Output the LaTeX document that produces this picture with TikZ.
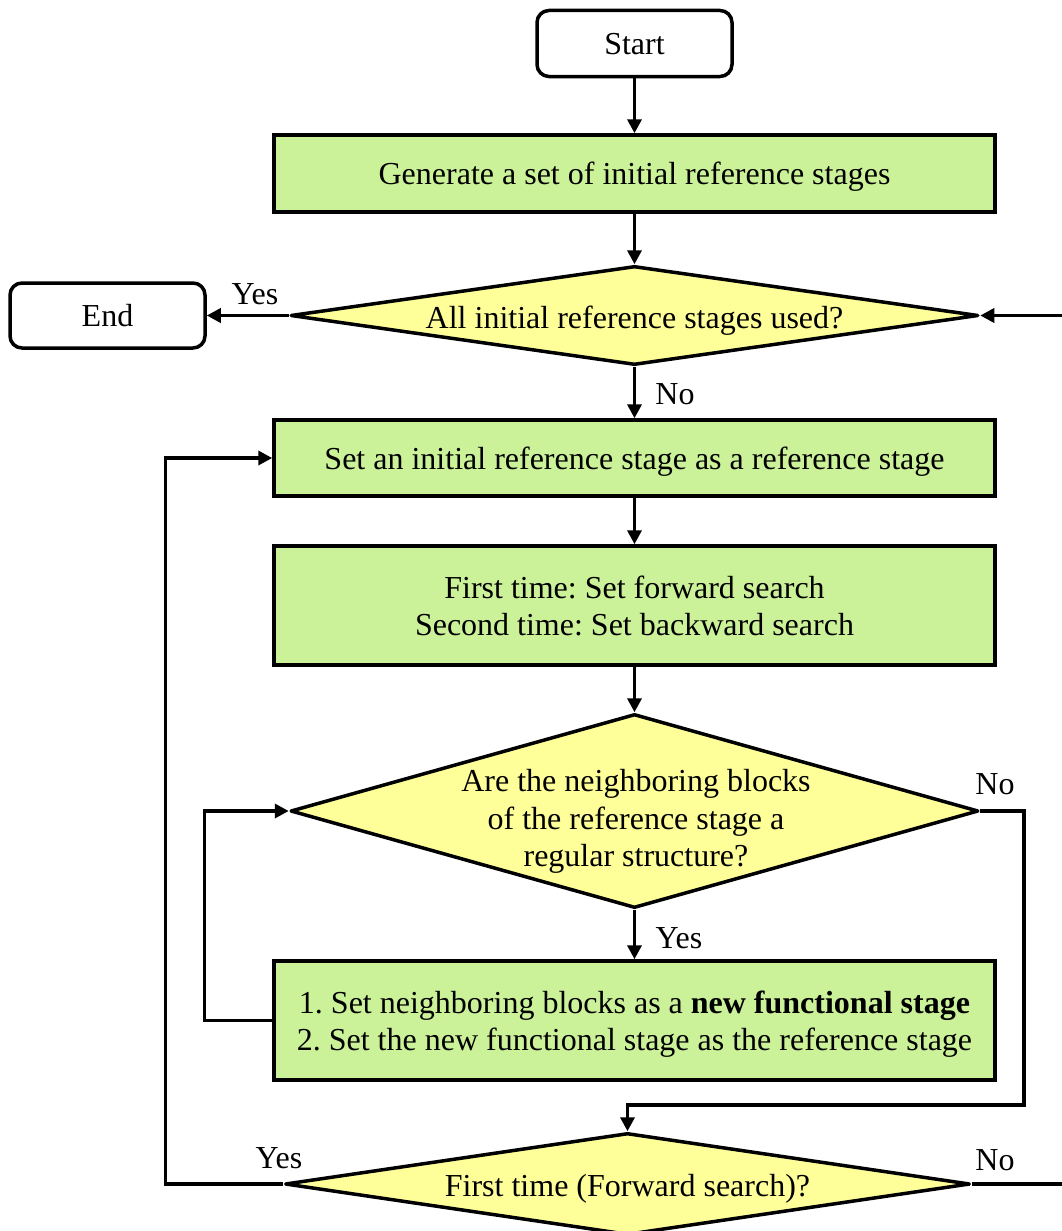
\documentclass[tikz,border=0pt]{standalone}
\usepackage{fontspec}
\setmainfont{Liberation Serif}
\usetikzlibrary{arrows.meta,shapes.geometric}
\definecolor{procgreen}{RGB}{204,242,153}
\definecolor{decyellow}{RGB}{255,255,153}
\frenchspacing
\begin{document}
\begin{tikzpicture}[x=1pt,y=-1pt,
  line width=3.5pt,
  font=\fontsize{32}{37.5}\selectfont,
  every node/.append style={text depth=0pt},
  terminal/.style={draw, rounded corners=12pt, minimum width=195pt, minimum height=66pt, inner sep=0pt},
  process/.style={draw, fill=procgreen, minimum width=721pt, inner sep=0pt, align=center},
  decision/.style={draw, fill=decyellow, diamond, inner sep=0pt, line join=round},
  flow/.style={-{Triangle[length=14pt,width=14pt]}},
  tag/.style={inner sep=0pt, align=center}
]
\useasboundingbox (0,0) rectangle (1062,1231);
\clip (0,0) rectangle (1062,1231);

% main column of steps
\node[terminal] (start) at (634.5,43.5) {Start};
\node[process, minimum height=77pt] (gen) at (634.5,173.5) {Generate a set of initial reference stages};
\node[decision, minimum width=688pt, minimum height=99pt] (used) at (634.5,315.5) {};
\node[tag] (usedtext) at (634.5,317) {All initial reference stages used?};
\node[terminal, minimum height=65pt] (end) at (107.5,315.5) {End};
\node[process, minimum height=76pt] (pick) at (634.5,458) {Set an initial reference stage as a reference stage};
\node[process, minimum height=119pt] (dir) at (634.5,605.5) {First time: Set forward search\\Second time: Set backward search};
\node[decision, minimum width=688pt, minimum height=194pt] (regular) at (634.5,811) {};
\node[tag] (regtext) at (636,818) {Are the neighboring blocks\\of the reference stage a\\regular structure?};
\node[process, minimum height=119pt] (merge) at (634.5,1020.5) {1. Set neighboring blocks as a \textbf{new functional stage}\\2. Set the new functional stage as the reference stage};
\node[decision, minimum width=685pt, minimum height=102pt] (first) at (627.5,1184) {};
\node[tag] (firsttext) at (627.5,1185) {First time (Forward search)?};

% branch labels
\node[tag] (yesend) at (255,294) {Yes};
\node[tag] (noused) at (675,394) {No};
\node[tag] (noreg) at (995,784) {No};
\node[tag] (yesreg) at (679,938) {Yes};
\node[tag] (yesfirst) at (279,1158) {Yes};
\node[tag] (nofirst) at (995,1160) {No};

% free ends and bends
\coordinate (feed) at (1062,315.5);
\coordinate (exit) at (1062,1184);
\coordinate (nobend) at (1024,1105);

% connectors
\draw[flow] (start) -- (gen);
\draw[flow] (gen) -- (used);
\draw[flow] (used.west) -- (end.east);
\draw[flow] (feed) -- (used.east);
\draw[flow] (used) -- (pick);
\draw[flow] (pick) -- (dir);
\draw[flow] (dir) -- (regular);
\draw[flow] (regular) -- (merge);
\draw[flow] (merge.west) -- ++(-68,0) |- (regular.west);
\draw[flow] (regular.east) -| (nobend) -| (first.north);
\draw[flow] (first.west) -- ++(-118,0) |- (pick.west);
\draw (first.east) -- (exit);
\end{tikzpicture}
\end{document}
